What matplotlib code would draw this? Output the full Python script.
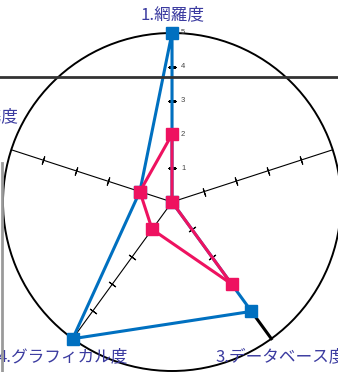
import matplotlib
matplotlib.use("Agg")
import matplotlib.pyplot as plt
from matplotlib.lines import Line2D
import numpy as np

plt.rcParams['font.family'] = ['Noto Sans CJK JP', 'DejaVu Sans']

labels = ["1.網羅度", "2.柔軟度", "3.データベース度", "4.グラフィカル度", "5.連携度"]
series_blue = [5, 0, 4, 5, 1]
series_pink = [2, 0, 3, 1, 1]
ticks = [1, 2, 3, 4, 5]

blue = "#0070c0"
pink = "#ee1260"
label_col = "#3b3ba0"

n = len(labels)
theta = np.arange(n) * 2 * np.pi / n

fig = plt.figure(figsize=(3.38, 3.72), dpi=100)
ax = fig.add_axes([3 / 338, 1 / 372, 1.0, 338 / 372], projection="polar")
ax.set_theta_offset(np.pi / 2)
ax.set_theta_direction(-1)
ax.set_ylim(0, 5)
ax.grid(False)
ax.set_xticks([])
ax.set_yticks([])
ax.spines["polar"].set_linewidth(1.4)
ax.spines["polar"].set_color("black")

# axis lines with perpendicular ticks
for i, t in enumerate(theta):
    ax.plot([t, t], [0, 5], color="black", lw=0.8, zorder=1)
    phi = 90 - 72 * i
    ax.plot([t] * 4, ticks[:4], ls="none", marker=(2, 2, phi),
            markersize=6, mec="black", mew=0.8, zorder=1)

# thicker outer piece on axis 3
ax.plot([theta[2], theta[2]], [4, 5], color="black", lw=2.2, zorder=1, clip_on=False)

# tick labels on axis 1
for v in ticks:
    ax.annotate(str(v), (0, v), xytext=(9, 0), textcoords="offset pixels",
                ha="left", va="center", fontsize=5.5, color="#444444",
                family="Liberation Sans")

tb = np.append(theta, theta[0])
ax.plot(tb, series_blue + series_blue[:1], color=blue, lw=2.2, zorder=3, clip_on=False)
ax.plot(theta, series_blue, ls="none", marker="s", markersize=8.5, color=blue,
        zorder=4, clip_on=False)
ax.plot(tb, series_pink + series_pink[:1], color=pink, lw=2.2, zorder=5, clip_on=False)
ax.plot(theta, series_pink, ls="none", marker="s", markersize=8.5, color=pink,
        zorder=6, clip_on=False)

# axis names
offsets = [(0, 18, "center"), (40, 10, "left"), (-56, -18, "left"),
           (-10, -18, "center"), (7, 33, "right")]
for i, (dx, dy, ha) in enumerate(offsets):
    ax.annotate(labels[i], (theta[i], 5), xytext=(dx, dy), textcoords="offset pixels",
                ha=ha, va="center", fontsize=12, color=label_col, annotation_clip=False)

# frame lines of the surrounding page
fig.add_artist(Line2D([0, 1], [1 - 77 / 372, 1 - 77 / 372], color="#333333", lw=2.0))
fig.add_artist(Line2D([1.5 / 338, 1.5 / 338], [0, 1 - 163 / 372], color="#9a9a9a", lw=2.0))

fig.savefig("out.png", dpi=100)
